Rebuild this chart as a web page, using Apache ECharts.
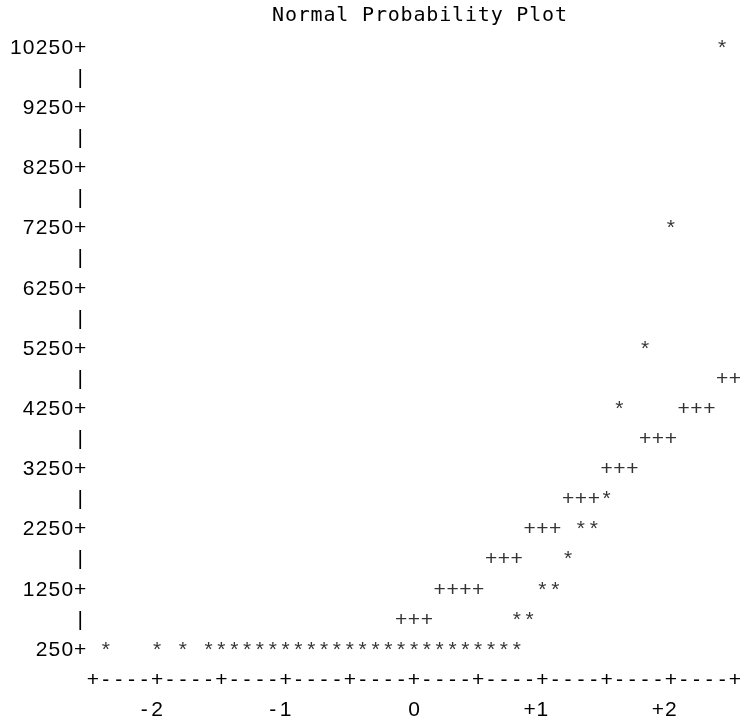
<!DOCTYPE html>
<html>
<head>
<meta charset="utf-8">
<script src="https://cdn.jsdelivr.net/npm/echarts@6/dist/echarts.min.js"></script>
<title>Normal Probability Plot</title>
</head>
<body style="margin: 0; background: #fff">
<div id="container" style="width: 744px; height: 719px"></div>
<script type="text/javascript">

    // line printer plot: every character sits in a fixed cell
    const CELL = 12.86;
    const titleText = 'Normal Probability Plot';

    const yTicks = [250, 1250, 2250, 3250, 4250, 5250, 6250, 7250, 8250, 9250, 10250];
    const yBars = [750, 1750, 2750, 3750, 4750, 5750, 6750, 7750, 8750, 9750];
    const xTicks = [-2, -1, 0, 1, 2];
    const xTickLabels = ['-2', '-1', '0', '+1', '+2'];

    // observations ('*'): value of the row, normal quantiles printed on that row
    const starRows = [10250, 7250, 5250, 4250, 2750, 2250, 1750, 1250, 750, 250];
    const starQuantiles = [
        [2.4],
        [2.0],
        [1.8],
        [1.6],
        [1.5],
        [1.3, 1.4],
        [1.2],
        [1.0, 1.1],
        [0.8, 0.9],
        [-2.4, -2.0, -1.8, -1.6, -1.5, -1.4, -1.3, -1.2, -1.1, -1.0, -0.9, -0.8, -0.7, -0.6,
         -0.5, -0.4, -0.3, -0.2, -0.1, 0.0, 0.1, 0.2, 0.3, 0.4, 0.5, 0.6, 0.7, 0.8]
    ];

    // reference line ('+')
    const refRows = [4750, 4250, 3750, 3250, 2750, 2250, 1750, 1250, 750];
    const refQuantiles = [
        [2.4, 2.5],
        [2.1, 2.2, 2.3],
        [1.8, 1.9, 2.0],
        [1.5, 1.6, 1.7],
        [1.2, 1.3, 1.4],
        [0.9, 1.0, 1.1],
        [0.6, 0.7, 0.8],
        [0.2, 0.3, 0.4, 0.5],
        [-0.1, 0.0, 0.1]
    ];

    function toPoints(rows, quantiles) {
        let pts = [];
        for (let i in rows) {
            for (let q of quantiles[i]) pts.push([q, rows[i]]);
        }
        return pts;
    }

    function cells(s) {
        return s.split('').map(ch => '{c|' + ch + '}').join('');
    }

    const sans = 'Liberation Sans';
    const FS = 21;
    const cellStyle = {c: {width: CELL, align: 'center', fontFamily: sans, fontSize: FS, color: '#000'}};

    let dom = document.getElementById('container');
    let chart = echarts.init(dom);
    chart.setOption({
        backgroundColor: '#fff',
        animation: false,
        title: {
            text: cells(titleText),
            left: 93 + 14 * CELL - CELL / 2,
            top: 1,
            textStyle: {
                fontWeight: 'normal',
                rich: {c: {width: CELL, align: 'center', fontFamily: 'DejaVu Sans Mono',
                           fontSize: 20, fontWeight: 'normal', color: '#000'}}
            }
        },
        grid: {left: 93, right: 9, top: 48, bottom: 69, outerBoundsMode: 'none'},
        xAxis: [
            {
                type: 'value', position: 'bottom', min: -2.5, max: 2.5, interval: 0.5,
                axisLine: {show: false}, axisTick: {show: false}, splitLine: {show: false},
                axisLabel: {
                    margin: 60, verticalAlign: 'middle', rich: cellStyle,
                    formatter: function (v) {
                        let i = xTicks.indexOf(Math.round(v * 10) / 10);
                        if (i < 0) return '';
                        let s = xTickLabels[i];
                        return s.length > 1 ? cells(s + ' ') : cells(s);
                    }
                }
            },
            {
                // the "+----+----" axis row
                type: 'value', position: 'bottom', min: -2.5, max: 2.5, interval: 0.1,
                axisLine: {show: false}, axisTick: {show: false}, splitLine: {show: false},
                axisLabel: {
                    margin: 30, verticalAlign: 'middle', rich: cellStyle,
                    showMinLabel: true, showMaxLabel: true,
                    formatter: function (v) {
                        return Math.round(v * 10) % 5 === 0 ? cells('+') : cells('-');
                    }
                }
            }
        ],
        yAxis: {
            type: 'value', min: 250, max: 10250, interval: 250,
            axisLine: {show: false}, axisTick: {show: false}, splitLine: {show: false},
            axisLabel: {
                margin: CELL / 2, align: 'right', verticalAlign: 'middle', rich: cellStyle,
                showMinLabel: true, showMaxLabel: true,
                formatter: function (v) {
                    let k = Math.round(v);
                    if (yTicks.indexOf(k) >= 0) return cells(k + '+');
                    if (yBars.indexOf(k) >= 0) return cells('|');
                    return '';
                }
            }
        },
        series: [
            {
                type: 'scatter', name: 'reference', xAxisIndex: 0,
                data: toPoints(refRows, refQuantiles),
                symbolSize: 1, itemStyle: {color: 'rgba(0,0,0,0)'},
                clip: false,
                label: {show: true, position: 'inside', formatter: '+', color: '#000',
                        fontFamily: sans, fontSize: FS}
            },
            {
                type: 'scatter', name: 'observed', xAxisIndex: 0,
                data: toPoints(starRows, starQuantiles),
                symbolSize: 1, itemStyle: {color: 'rgba(0,0,0,0)'},
                clip: false,
                label: {show: true, position: 'inside', formatter: '*', color: '#000',
                        fontFamily: sans, fontSize: FS}
            }
        ]
    }, true);

</script>
</body>
</html>
